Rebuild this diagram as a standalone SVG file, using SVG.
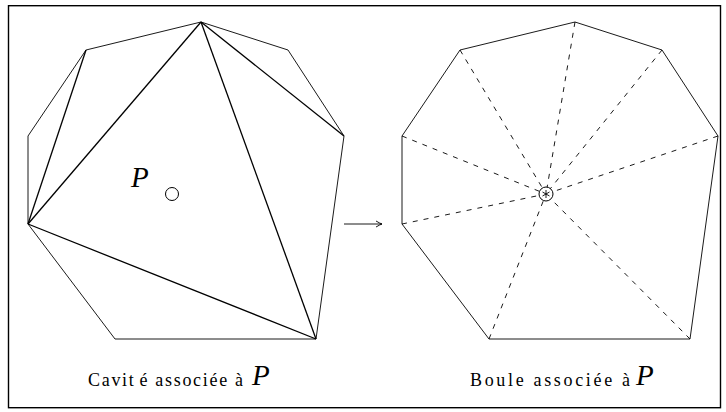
<svg xmlns="http://www.w3.org/2000/svg" width="726" height="412" viewBox="0 0 726 412">
<style>
.frame{fill:none;stroke:#000;stroke-width:1.4}
.edge{fill:none;stroke:#000;stroke-width:0.9;stroke-linejoin:miter}
.thick{fill:none;stroke:#000;stroke-width:1.3}
.dash{fill:none;stroke:#000;stroke-width:0.9;stroke-dasharray:5 6}
.pt{fill:#fff;stroke:#000;stroke-width:1}
.cap{font-family:"Liberation Serif","Times New Roman",serif;font-size:18px;fill:#000}
.var{font-family:"Liberation Serif","Times New Roman",serif;font-style:italic;font-size:29px;fill:#000}
</style>
<defs>
<polygon id="hull" points="201,22 288,50 344,136 316,339 115,339 28,224 28,136 86,50"/>
<marker id="head" viewBox="-7 -4 8 8" markerWidth="8" markerHeight="8" refX="0" refY="0" orient="auto" markerUnits="userSpaceOnUse">
<path d="M-6,-3 Q-2,-0.6 0,0 Q-2,0.6 -6,3" fill="none" stroke="#000" stroke-width="0.9"/>
</marker>
</defs>
<rect class="frame" x="8.5" y="5.7" width="712" height="402"/>
<g id="cavite">
<use href="#hull" class="edge"/>
<g class="thick">
<line x1="86" y1="50" x2="28" y2="224"/>
<line x1="201" y1="22" x2="28" y2="224"/>
<line x1="201" y1="22" x2="316" y2="339"/>
<line x1="28" y1="224" x2="316" y2="339"/>
<line x1="201" y1="22" x2="344" y2="136"/>
</g>
<circle class="pt" cx="172" cy="194" r="6.5"/>
<text class="var" x="131" y="187">P</text>
<text x="88" y="386" class="cap" textLength="155" lengthAdjust="spacing">Cavit<tspan dx="4">é</tspan> associée à</text>
<text class="var" x="252" y="385">P</text>
</g>
<g id="boule">
<use href="#hull" class="edge" transform="translate(374,0)"/>
<g class="dash">
<line x1="575" y1="22" x2="546" y2="194"/>
<line x1="662" y1="50" x2="546" y2="194"/>
<line x1="718" y1="136" x2="546" y2="194"/>
<line x1="690" y1="339" x2="546" y2="194"/>
<line x1="489" y1="339" x2="546" y2="194"/>
<line x1="402" y1="224" x2="546" y2="194"/>
<line x1="402" y1="136" x2="546" y2="194"/>
<line x1="460" y1="50" x2="546" y2="194"/>
</g>
<circle class="pt" cx="546" cy="194" r="7"/>
<g stroke="#000" stroke-width="0.9">
<line x1="546" y1="190" x2="546" y2="198"/>
<line x1="542.5" y1="192" x2="549.5" y2="196"/>
<line x1="542.5" y1="196" x2="549.5" y2="192"/>
</g>
<text x="470" y="386" class="cap" textLength="160" lengthAdjust="spacing">Boule associée à</text>
<text class="var" x="636" y="385">P</text>
</g>
<g id="connectors">
<line x1="344" y1="224" x2="382" y2="224" stroke="#000" stroke-width="0.9" marker-end="url(#head)"/>
</g>
</svg>
